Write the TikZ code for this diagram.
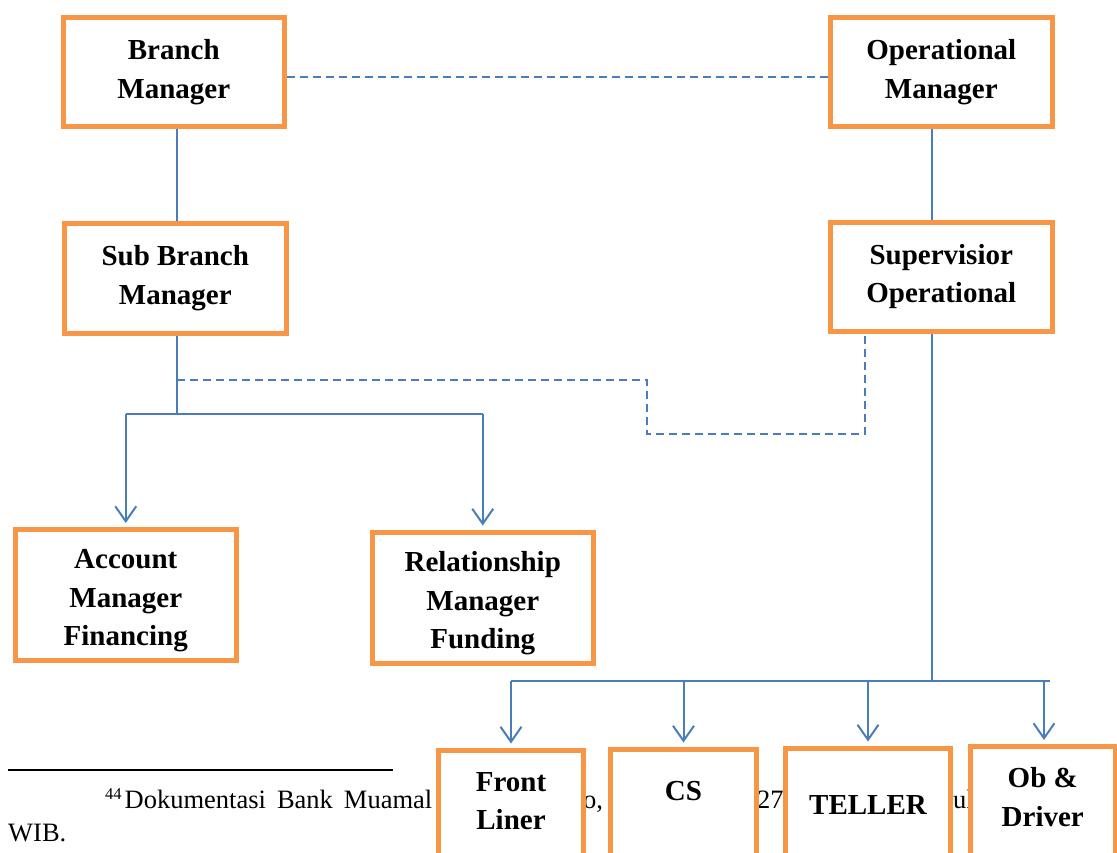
\documentclass[tikz,border=0pt]{standalone}
\usepackage{fontspec}
\setmainfont{Liberation Serif}
\usetikzlibrary{arrows.meta}
\definecolor{boxorange}{HTML}{F79646}
\definecolor{linkblue}{HTML}{4A7EBB}

\begin{document}
\begin{tikzpicture}[x=1pt,y=-1pt,
  orgbox/.style={draw=boxorange, line width=5pt, fill=white, inner sep=0pt,
    align=center, font=\bfseries\fontsize{29}{38.5}\selectfont},
  boxlabel/.style={inner sep=0pt, align=center, font=\bfseries\fontsize{29}{38.5}\selectfont},
  boxtext/.style={inner sep=0pt, anchor=base, font=\bfseries\fontsize{29}{38.5}\selectfont},
  link/.style={draw=linkblue, line width=2pt},
  dashlink/.style={link, dash pattern=on 8pt off 5pt},
  down/.style={link, -{Straight Barb[length=15pt,width=21pt,line width=2pt]}, shorten >=4pt},
  note/.style={inner sep=0pt, anchor=base west, font=\fontsize{26.5}{30}\selectfont}]

\useasboundingbox (0,0) rectangle (1117,852);
\clip (0,0) rectangle (1117,852);

% footnote rule and footnote text
\coordinate (rulestart) at (8,770);
\coordinate (ruleend) at (393,770);
\draw[line width=1.5pt] (rulestart) -- (ruleend);
\node[note] (fn1) at (105,808) {\raisebox{9pt}{\fontsize{16.5}{16}\selectfont 44}\kern3pt{\spaceskip=11pt Dokumentasi Bank Muamal}};
\node[note] (fn2) at (583,808) {o,};
\node[note] (fn3) at (757,808) {27};
\node[note] (fn4) at (953,808) {uk};
\node[note] (fn5) at (8,841) {WIB.};

% management boxes
\node[orgbox, minimum width=221.5pt, minimum height=109pt] (bm) at (173.75,72) {Branch\\Manager};
\node[orgbox, minimum width=222.5pt, minimum height=109pt] (om) at (941.25,72) {Operational\\Manager};
\node[orgbox, minimum width=222.5pt, minimum height=110pt] (sbm) at (175.25,278) {Sub Branch\\Manager};
\node[orgbox, minimum width=222.5pt, minimum height=109.5pt] (so) at (941.25,276.75) {Supervisior\\Operational};
\node[orgbox, minimum width=220.5pt, minimum height=130.5pt] (amf) at (125.75,594.75) {};
\node[orgbox, minimum width=220.5pt, minimum height=131pt] (rmf) at (482.75,597.5) {};
\node[boxlabel] (amft) at ([yshift=-6pt]amf.center) {Account\\Manager\\Financing};
\node[boxlabel] (rmft) at ([yshift=-6pt]rmf.center) {Relationship\\Manager\\Funding};

% staff boxes along the bottom edge
\node[orgbox, minimum width=145.5pt, minimum height=150pt] (fl) at (511,825) {};
\node[orgbox, minimum width=146pt, minimum height=150pt] (cs) at (683.5,824) {};
\node[orgbox, minimum width=165pt, minimum height=150pt] (tl) at (868,823) {};
\node[orgbox, minimum width=144.5pt, minimum height=150pt] (ob) at (1042.75,821.5) {};
\node[boxtext] (flt1) at (511,791) {Front};
\node[boxtext] (flt2) at (511,829) {Liner};
\node[boxtext] (cst) at (683.5,800) {CS};
\node[boxtext] (tlt) at (868,814) {TELLER};
\node[boxtext] (obt1) at (1042.75,787) {Ob \&};
\node[boxtext] (obt2) at (1042.75,826) {Driver};

% reference coordinates for connector routing
\coordinate (c1) at (177,0);
\coordinate (c2) at (932,0);
\coordinate (bus1) at (0,414);
\coordinate (bus2) at (0,681);
\coordinate (busend) at (1050,681);
\coordinate (dj1) at (647,380);
\coordinate (dj2) at (865,434);

% coordination line between the managers
\draw[dashlink] ([yshift=-5pt]bm.east) -- ([yshift=-5pt]om.west);

% reporting lines
\draw[link] (bm.south -| c1) -- (sbm.north -| c1);
\draw[link] (om.south -| c2) -- (so.north -| c2);

\draw[link] (sbm.south -| c1) -- (c1 |- bus1);
\draw[link] (amf.north |- bus1) -- (rmf.north |- bus1);
\draw[down] (amf.north |- bus1) -- (amf.north);
\draw[down] (rmf.north |- bus1) -- (rmf.north);

\draw[dashlink] (c1 |- dj1) -- (dj1) -- (dj1 |- dj2) -- (dj2) -- (so.south -| dj2);

\draw[link] (so.south -| c2) -- (c2 |- bus2);
\draw[link] (fl.north |- bus2) -- (busend);
\draw[down] (fl.north |- bus2) -- (fl.north);
\draw[down] (cs.north |- bus2) -- (cs.north);
\draw[down] (tl.north |- bus2) -- (tl.north);
\draw[down] ([xshift=1.25pt]ob.north |- bus2) -- ([xshift=1.25pt]ob.north);
\end{tikzpicture}
\end{document}
